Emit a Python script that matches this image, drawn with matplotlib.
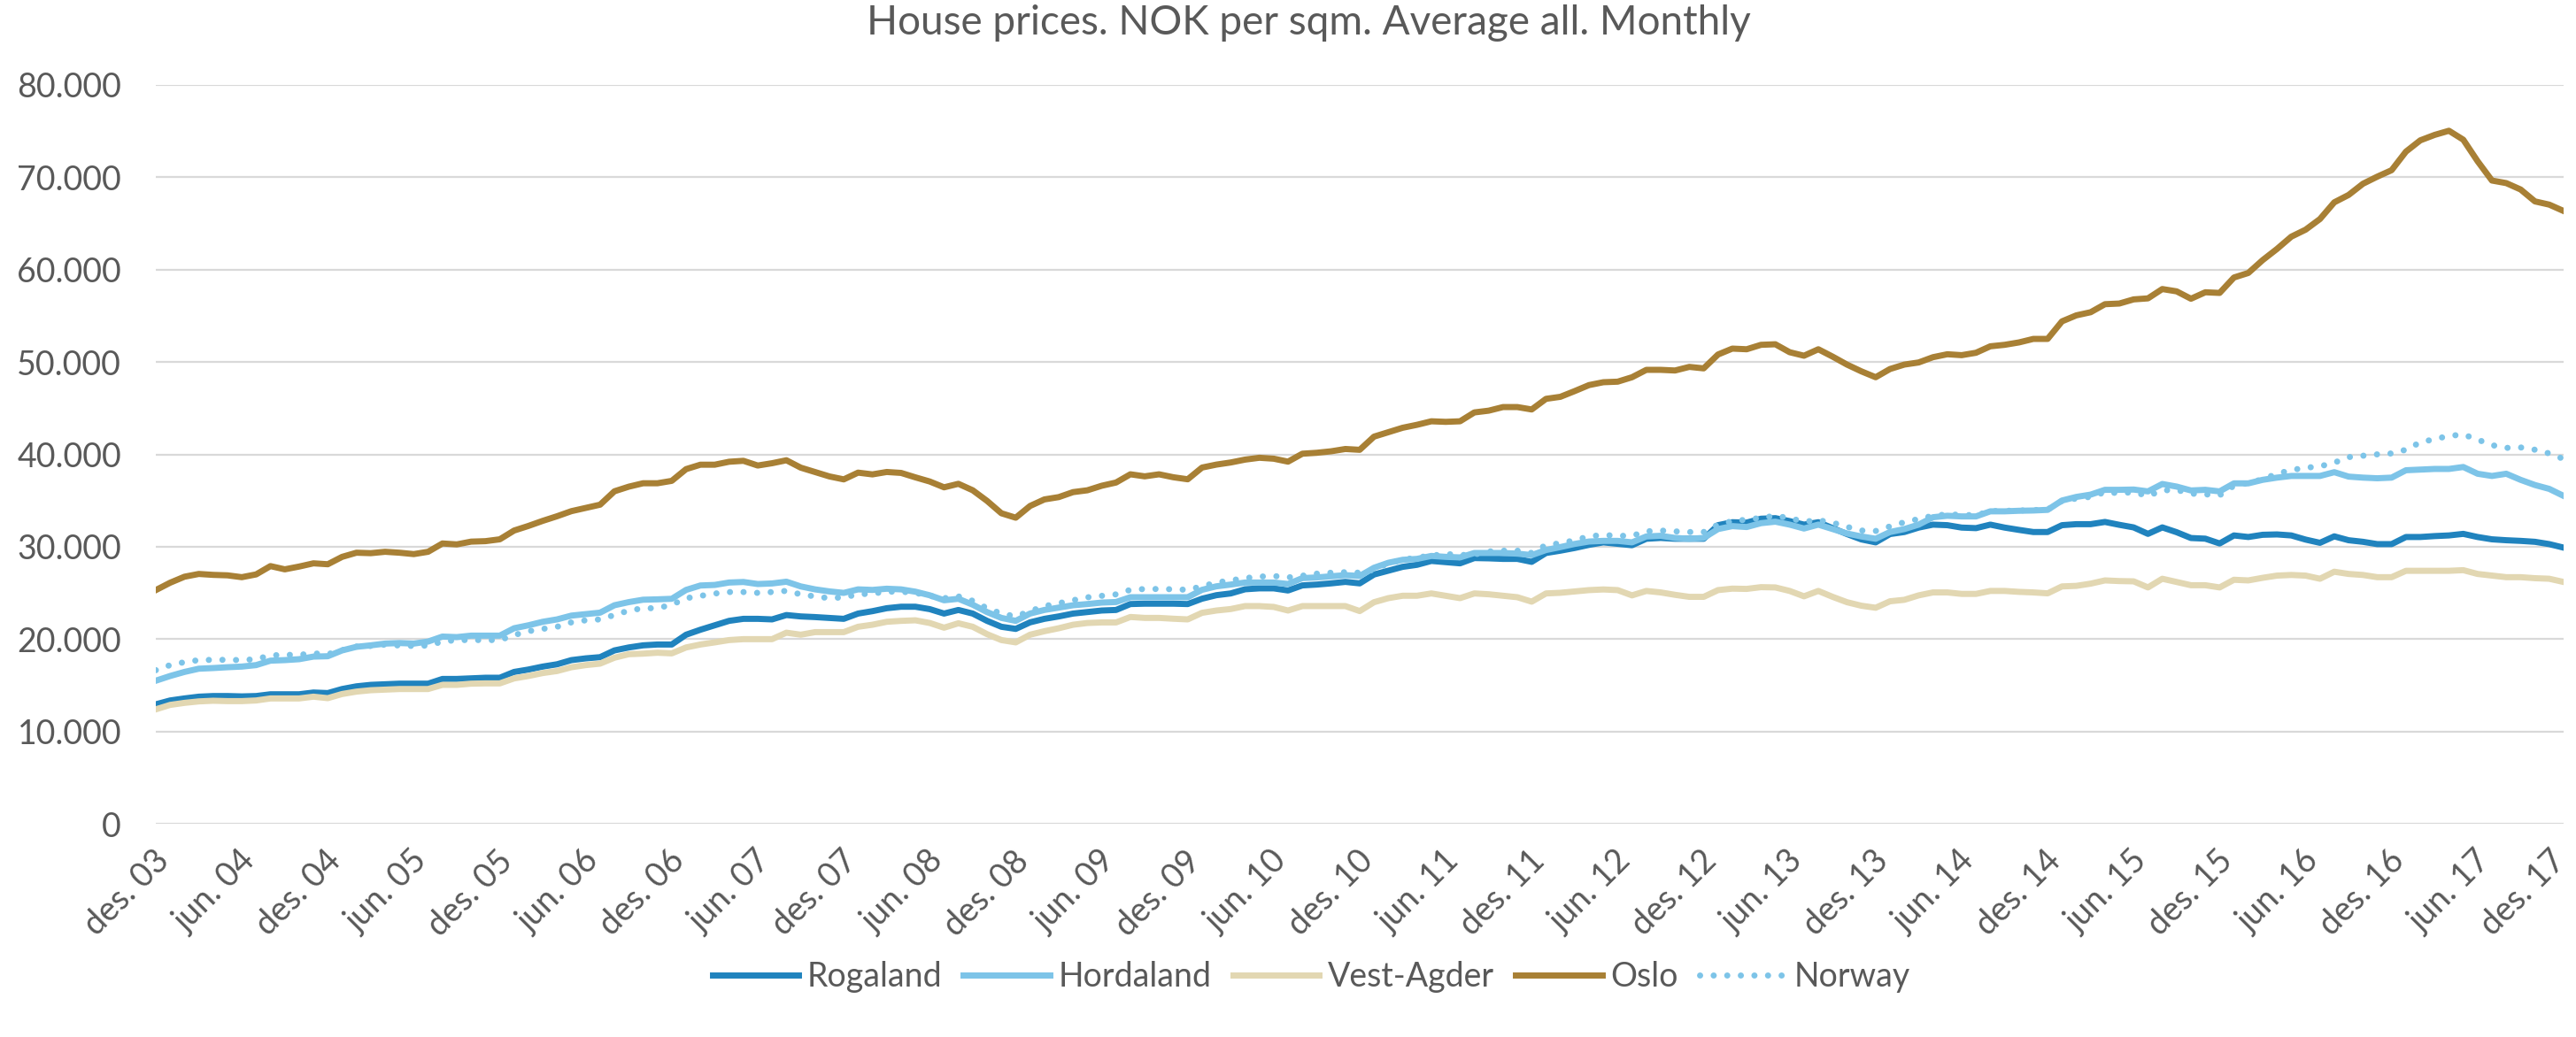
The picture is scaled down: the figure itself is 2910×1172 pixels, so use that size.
import matplotlib
matplotlib.use("Agg")
import matplotlib.pyplot as plt
import matplotlib.transforms as mtransforms
import numpy as np
from matplotlib.ticker import FuncFormatter

plt.rcParams['font.family'] = ['Lato', 'DejaVu Sans']

# monthly values, des. 03 (index 0) to des. 17 (index 168)
rogaland = [
    12930, 13350, 13570, 13760, 13830, 13830, 13790, 13830, 14020, 14020, 14020, 14210,
    14150, 14590, 14880, 15040, 15100, 15170, 15170, 15170, 15680, 15680, 15740, 15810,
    15810, 16440, 16700, 17020, 17270, 17720, 17910, 18040, 18770, 19090, 19320, 19410,
    19410, 20470, 21010, 21490, 21970, 22190, 22190, 22130, 22600, 22450, 22380, 22290,
    22190, 22760, 23020, 23340, 23500, 23500, 23240, 22760, 23150, 22760, 21970, 21330,
    21100, 21810, 22190, 22450, 22760, 22920, 23090, 23150, 23790, 23830, 23830, 23830,
    23790, 24370, 24750, 24940, 25390, 25490, 25490, 25260, 25810, 25900, 26030, 26190,
    26030, 26990, 27400, 27820, 28040, 28460, 28330, 28200, 28770, 28740, 28680, 28680,
    28360, 29320, 29570, 29860, 30200, 30470, 30310, 30160, 30860, 30950, 30860, 30860,
    30860, 32330, 32650, 32610, 33030, 33090, 32770, 32390, 32650, 32010, 31370, 30790,
    30470, 31370, 31590, 32070, 32390, 32330, 32070, 32010, 32390, 32070, 31820, 31590,
    31590, 32330, 32440, 32440, 32680, 32370, 32090, 31390, 32090, 31570, 30940, 30870,
    30350, 31220, 31050, 31290, 31330, 31220, 30770, 30420, 31120, 30700, 30530, 30280,
    30280, 31050, 31050, 31150, 31220, 31390, 31050, 30800, 30700, 30630, 30530, 30280,
    29900,
]
hordaland = [
    15490, 16000, 16440, 16790, 16860, 16950, 17020, 17180, 17660, 17720, 17820, 18100,
    18140, 18770, 19160, 19320, 19510, 19570, 19510, 19730, 20270, 20210, 20370, 20370,
    20370, 21170, 21490, 21870, 22130, 22540, 22700, 22860, 23660, 24000, 24260, 24300,
    24360, 25320, 25800, 25860, 26120, 26180, 25960, 26020, 26210, 25700, 25380, 25160,
    25000, 25380, 25320, 25450, 25380, 25130, 24740, 24200, 24360, 23720, 22920, 22290,
    21970, 22760, 23150, 23400, 23660, 23790, 23950, 24010, 24530, 24530, 24530, 24530,
    24530, 25330, 25710, 25900, 26120, 26120, 26120, 25960, 26600, 26670, 26790, 26920,
    26830, 27720, 28260, 28580, 28680, 29000, 28900, 28840, 29320, 29320, 29320, 29250,
    29090, 29640, 29960, 30300, 30560, 30630, 30630, 30470, 31110, 31180, 30950, 30860,
    30950, 31910, 32230, 32130, 32550, 32710, 32390, 31970, 32390, 31910, 31430, 31110,
    30860, 31590, 31910, 32390, 33190, 33350, 33280, 33280, 33830, 33830, 33890, 33920,
    33990, 35000, 35390, 35640, 36160, 36160, 36190, 35990, 36790, 36510, 36090, 36160,
    35990, 36860, 36860, 37240, 37480, 37660, 37660, 37660, 38070, 37590, 37480, 37410,
    37480, 38280, 38350, 38420, 38420, 38630, 37900, 37660, 37900, 37240, 36680, 36260,
    35500,
]
vest_agder = [
    12390, 12870, 13090, 13250, 13320, 13280, 13280, 13350, 13570, 13570, 13570, 13760,
    13600, 14050, 14310, 14460, 14530, 14590, 14590, 14590, 15040, 15040, 15170, 15200,
    15200, 15740, 16000, 16320, 16540, 16950, 17180, 17340, 17980, 18360, 18420, 18520,
    18450, 19090, 19410, 19640, 19890, 19990, 19990, 19990, 20690, 20470, 20750, 20750,
    20750, 21330, 21550, 21870, 21970, 22030, 21740, 21230, 21710, 21330, 20530, 19890,
    19640, 20470, 20850, 21170, 21550, 21740, 21800, 21800, 22390, 22290, 22290, 22200,
    22130, 22840, 23090, 23250, 23570, 23570, 23480, 23090, 23570, 23570, 23570, 23570,
    23030, 23990, 24430, 24690, 24690, 24940, 24690, 24430, 24940, 24850, 24690, 24530,
    24050, 24940, 25010, 25150, 25300, 25370, 25300, 24730, 25210, 25050, 24790, 24570,
    24570, 25300, 25460, 25430, 25620, 25590, 25210, 24630, 25210, 24570, 23990, 23610,
    23390, 24090, 24250, 24730, 25050, 25050, 24890, 24890, 25210, 25210, 25110, 25050,
    24950, 25700, 25760, 26000, 26350, 26280, 26250, 25590, 26530, 26180, 25830, 25830,
    25590, 26420, 26350, 26630, 26870, 26940, 26870, 26530, 27290, 27050, 26940, 26700,
    26700, 27390, 27390, 27390, 27390, 27460, 27050, 26870, 26700, 26700, 26590, 26530,
    26180,
]
oslo = [
    25300, 26100, 26750, 27050, 26950, 26900, 26700, 27000, 27900, 27550, 27850, 28200,
    28100, 28900, 29350, 29300, 29450, 29350, 29200, 29450, 30350, 30250, 30550, 30600,
    30800, 31750, 32250, 32800, 33300, 33850, 34200, 34550, 36000, 36500, 36870, 36870,
    37130, 38400, 38880, 38880, 39200, 39300, 38790, 39040, 39360, 38560, 38090, 37610,
    37290, 38020, 37830, 38090, 37990, 37510, 37060, 36430, 36810, 36110, 34960, 33620,
    33140, 34410, 35120, 35370, 35910, 36110, 36600, 36950, 37840, 37620, 37840, 37520,
    37300, 38570, 38890, 39120, 39430, 39630, 39530, 39210, 40070, 40170, 40330, 40580,
    40490, 41920, 42400, 42880, 43200, 43580, 43520, 43580, 44540, 44730, 45120, 45120,
    44860, 46010, 46230, 46850, 47500, 47810, 47870, 48350, 49150, 49150, 49080, 49470,
    49310, 50810, 51450, 51380, 51860, 51920, 51060, 50680, 51380, 50580, 49720, 48990,
    48350, 49240, 49720, 49950, 50520, 50840, 50740, 51000, 51700, 51860, 52120, 52500,
    52500, 54400, 55050, 55390, 56260, 56330, 56780, 56890, 57900, 57650, 56850, 57550,
    57480, 59150, 59640, 61030, 62240, 63570, 64330, 65480, 67290, 68090, 69300, 70070,
    70770, 72780, 74000, 74590, 75040, 74070, 71740, 69650, 69370, 68680, 67390, 67040,
    66350,
]
norway = [
    16630, 17180, 17500, 17720, 17750, 17750, 17720, 17820, 18230, 18290, 18290, 18450,
    18360, 18800, 19190, 19250, 19400, 19300, 19250, 19300, 19730, 19890, 19890, 19890,
    19890, 20430, 20850, 21100, 21330, 21810, 22030, 22130, 22600, 23080, 23340, 23340,
    23720, 24420, 24680, 24930, 25090, 25090, 25000, 25090, 25220, 24840, 24620, 24420,
    24520, 24840, 24930, 25130, 25130, 25000, 24680, 24420, 24620, 24140, 23340, 22760,
    22450, 23020, 23560, 23880, 24200, 24520, 24680, 24840, 25330, 25420, 25420, 25390,
    25330, 25710, 26120, 26350, 26600, 26760, 26830, 26670, 26860, 27080, 27180, 27240,
    27180, 27500, 28200, 28580, 28840, 29030, 29220, 29090, 29160, 29480, 29570, 29570,
    29320, 30180, 30370, 30700, 31120, 31270, 31180, 31180, 31660, 31750, 31660, 31590,
    31590, 32390, 32770, 32930, 33120, 33350, 33090, 32710, 32870, 32600, 32150, 31750,
    31700, 32200, 32650, 33000, 33350, 33500, 33450, 33400, 33850, 33880, 33920, 33960,
    34020, 34950, 35220, 35400, 35900, 35800, 35900, 35500, 36100, 36150, 35750, 35670,
    35570, 36600, 36900, 37300, 37900, 38300, 38550, 38700, 39100, 39700, 39850, 40000,
    40100, 40500, 41300, 41650, 42000, 42150, 41600, 41000, 40700, 40750, 40500, 40100,
    39500,
]

tick_labels = [
    'des. 03', 'jun. 04', 'des. 04', 'jun. 05', 'des. 05', 'jun. 06', 'des. 06',
    'jun. 07', 'des. 07', 'jun. 08', 'des. 08', 'jun. 09', 'des. 09', 'jun. 10',
    'des. 10', 'jun. 11', 'des. 11', 'jun. 12', 'des. 12', 'jun. 13', 'des. 13',
    'jun. 14', 'des. 14', 'jun. 15', 'des. 15', 'jun. 16', 'des. 16', 'jun. 17',
    'des. 17',
]

grey = '#595959'
W, H = 2910, 1172
fig = plt.figure(figsize=(W / 100, H / 100), dpi=100)
ax = fig.add_axes([176 / W, 1 - 931 / H, (2896 - 176) / W, (931 - 96) / H])

x = np.arange(len(oslo))
lw = 5.0
ax.plot(x, rogaland, color='#2083BE', lw=lw, label='Rogaland', solid_joinstyle='round')
ax.plot(x, hordaland, color='#7DC4E8', lw=lw, label='Hordaland', solid_joinstyle='round')
ax.plot(x, vest_agder, color='#E2D7B2', lw=lw, label='Vest-Agder', solid_joinstyle='round')
ax.plot(x, oslo, color='#A88035', lw=lw, label='Oslo', solid_joinstyle='round')
ax.plot(x, norway, color='#7DC4E8', lw=lw, label='Norway',
        linestyle=(0, (0.01, 2.2)), dash_capstyle='round')

ax.set_xlim(0, len(oslo) - 1)
ax.set_ylim(0, 80000)
ax.set_yticks(np.arange(0, 80001, 10000))
ax.yaxis.set_major_formatter(FuncFormatter(lambda v, p: f'{int(v):,}'.replace(',', '.')))
ax.set_xticks(np.arange(0, len(oslo), 6))
ax.set_xticklabels(tick_labels, rotation=45, ha='right', va='center', rotation_mode='anchor')

ax.grid(axis='y', color='#D9D9D9', lw=1.6)
ax.set_axisbelow(True)
for s in ax.spines.values():
    s.set_visible(False)
ax.tick_params(axis='both', length=0, labelsize=27, colors=grey)
ax.tick_params(axis='y', pad=28)
ax.tick_params(axis='x', pad=14)

# nudge the slanted month labels right and down; the last one stays inside the figure
labels = ax.get_xticklabels()
for i, lab in enumerate(labels):
    dx = 9 if i < len(labels) - 1 else -4
    offset = mtransforms.ScaledTranslation(dx / 100, -17 / 100, fig.dpi_scale_trans)
    lab.set_transform(lab.get_transform() + offset)

fig.text(0.508, 0.978, 'House prices. NOK per sqm. Average all. Monthly',
         ha='center', va='center', fontsize=33, color=grey)

leg = fig.legend(loc='center', bbox_to_anchor=(0.509, 0.058), ncol=5, frameon=False,
                 fontsize=27, handlelength=2.6, handletextpad=0.25, columnspacing=0.65)
for t in leg.get_texts():
    t.set_color(grey)

fig.savefig('out.png', dpi=100)
